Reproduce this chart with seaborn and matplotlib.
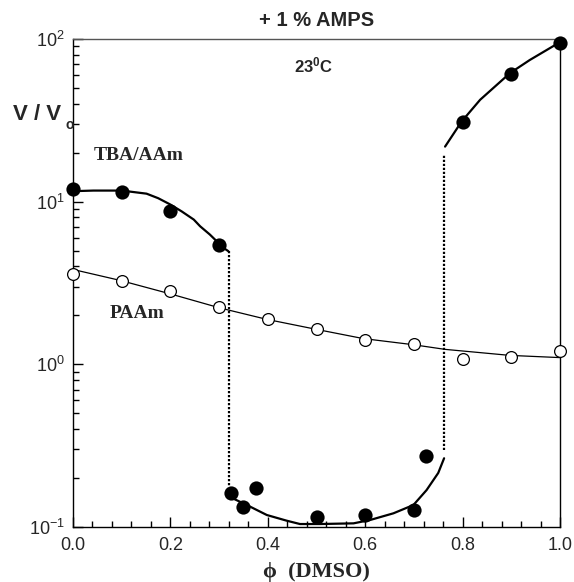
import numpy as np
import pandas as pd
import matplotlib
matplotlib.use("Agg")
import matplotlib.pyplot as plt
from matplotlib.ticker import MultipleLocator, LogLocator, FixedLocator
import seaborn as sns

# ---------------- data ----------------
tba_phi = [0.0, 0.1, 0.2, 0.3, 0.324, 0.35, 0.375, 0.5, 0.6, 0.7, 0.724, 0.8, 0.9, 1.0]
tba_v = [12.0, 11.4, 8.8, 5.45, 0.161, 0.132, 0.173, 0.116, 0.1185, 0.128, 0.273, 31.1, 60.7, 95.0]

paam_phi = [0.0, 0.1, 0.2, 0.3, 0.4, 0.5, 0.6, 0.7, 0.8, 0.9, 1.0]
paam_v = [3.57, 3.26, 2.82, 2.25, 1.91, 1.655, 1.42, 1.326, 1.08, 1.109, 1.20]

# fitted curves
fit1_phi = [0.0, 0.042, 0.1, 0.151, 0.175, 0.2, 0.223, 0.248, 0.261, 0.281, 0.309, 0.319]
fit1_v = [11.6, 11.7, 11.7, 11.2, 10.5, 9.6, 8.72, 7.76, 7.06, 6.28, 5.2, 4.96]

fit2_phi = [0.322, 0.357, 0.398, 0.439, 0.466, 0.507, 0.576, 0.61, 0.658, 0.699, 0.726, 0.750, 0.762]
fit2_v = [0.153, 0.1365, 0.1185, 0.1093, 0.1043, 0.1043, 0.1053, 0.1104, 0.1214, 0.1365, 0.1686, 0.215, 0.2646]

fit3_phi = [0.764, 0.798, 0.836, 0.897, 0.938, 0.996, 1.0]
fit3_v = [21.8, 31.1, 42.3, 61.6, 74.3, 94.1, 95.0]

paam_fit_phi = [0.0, 0.097, 0.2, 0.302, 0.398, 0.5, 0.596, 0.699, 0.764, 0.897, 1.0]
paam_fit_v = [3.83, 3.28, 2.71, 2.22, 1.89, 1.64, 1.44, 1.32, 1.236, 1.135, 1.10]

# dotted transitions
jump1_phi = [0.321, 0.321]
jump1_v = [4.96, 0.175]
jump2_phi = [0.762, 0.762]
jump2_v = [0.297, 19.7]

x_ticks = [0.0, 0.2, 0.4, 0.6, 0.8, 1.0]
x_tick_labels = ["0.0", "0.2", "0.4", "0.6", "0.8", "1.0"]

# ---------------- styling ----------------
sns.set_style("ticks")
plt.rcParams["font.family"] = ["Liberation Sans", "DejaVu Sans"]
plt.rcParams["mathtext.fontset"] = "custom"
plt.rcParams["mathtext.rm"] = "Liberation Sans"
plt.rcParams["mathtext.it"] = "Liberation Sans:italic"
plt.rcParams["mathtext.bf"] = "Liberation Sans:bold"
plt.rcParams["axes.unicode_minus"] = False

W, H = 574, 582
fig = plt.figure(figsize=(W / 100, H / 100), dpi=100)
ax = fig.add_axes([73 / W, 1 - 527 / H, 487 / W, 488 / H])

def line(xs, ys, **kw):
    sns.lineplot(x=xs, y=ys, ax=ax, sort=False, estimator=None, legend=False, **kw)

line(paam_fit_phi, paam_fit_v, color="black", linewidth=0.9)
line(fit1_phi, fit1_v, color="black", linewidth=1.6)
line(fit2_phi, fit2_v, color="black", linewidth=1.6)
line(fit3_phi, fit3_v, color="black", linewidth=1.6)
line(jump1_phi, jump1_v, color="black", linewidth=1.6, linestyle=(0, (1, 0.8)))
line(jump2_phi, jump2_v, color="black", linewidth=1.6, linestyle=(0, (1, 0.8)))

sns.scatterplot(x=paam_phi, y=paam_v, ax=ax, s=72, color="white",
                edgecolor="black", linewidth=0.9, zorder=5, clip_on=False, legend=False)
sns.scatterplot(x=tba_phi, y=tba_v, ax=ax, s=105, color="black",
                edgecolor="black", linewidth=0, zorder=6, clip_on=False, legend=False)

ax.set_yscale("log")
ax.set_xlim(0, 1.0)
ax.set_ylim(0.1, 100)
ax.xaxis.set_major_locator(FixedLocator(x_ticks))
ax.set_xticklabels(x_tick_labels)
ax.xaxis.set_minor_locator(MultipleLocator(0.04))
ax.yaxis.set_major_locator(LogLocator(base=10, numticks=10))
ax.yaxis.set_minor_locator(LogLocator(base=10, subs=np.arange(2, 10), numticks=20))

ax.tick_params(which="both", direction="in", top=False, right=False, color="black")
ax.tick_params(which="major", length=7, width=1.0, labelsize=13, pad=7)
ax.tick_params(axis="y", which="major", labelsize=13, pad=6)
ax.tick_params(which="minor", length=4, width=1.0)

for side, sp in ax.spines.items():
    sp.set_visible(True)
    sp.set_color("black")
    sp.set_linewidth(1.0)
ax.spines["top"].set_color("#555555")

ax.set_xlabel("")
ax.set_ylabel("")

# texts
fig.text(316.5 / W, 1 - 20 / H, "+ 1 % AMPS", ha="center", va="center",
         fontsize=14.5, fontweight="bold")
fig.text(314 / W, 1 - 65 / H, r"23$^{\mathbf{0}}$C", ha="center", va="center",
         fontsize=12, fontweight="bold")
fig.text(13 / W, 1 - 115 / H, "V / V", ha="left", va="center",
         fontsize=16, fontweight="bold")
fig.text(65 / W, 1 - 125 / H, "o", ha="left", va="center",
         fontsize=10, fontweight="bold")
fig.text(316 / W, 1 - 572 / H, "ϕ  (DMSO)", ha="center", va="center",
         fontsize=16, fontweight="bold", family=["Liberation Serif", "DejaVu Serif"])
ax.text(0.043, 0.762, "TBA/AAm", transform=ax.transAxes, ha="left", va="center",
        fontsize=14, fontweight="bold", family=["Liberation Serif", "DejaVu Serif"])
ax.text(0.076, 0.4385, "PAAm", transform=ax.transAxes, ha="left", va="center",
        fontsize=14, fontweight="bold", family=["Liberation Serif", "DejaVu Serif"])

fig.savefig("out.png", dpi=100)
